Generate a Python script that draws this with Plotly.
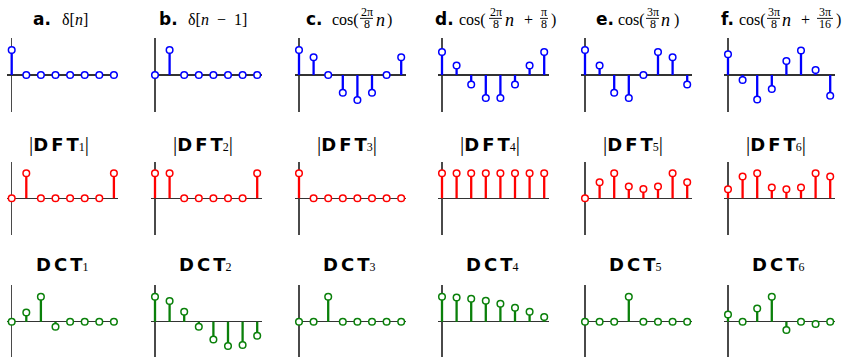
import plotly.graph_objects as go

# ---------------- data ----------------
idx = [0, 1, 2, 3, 4, 5, 6, 7]

sig_a = [1, 0, 0, 0, 0, 0, 0, 0]
sig_b = [0, 1, 0, 0, 0, 0, 0, 0]
sig_c = [1, 0.71, 0, -0.71, -1, -0.71, 0, 0.71]
sig_d = [0.92, 0.38, -0.38, -0.92, -0.92, -0.38, 0.38, 0.92]
sig_e = [1, 0.38, -0.71, -0.92, 0, 0.92, 0.71, -0.38]
sig_f = [0.83, -0.2, -0.98, -0.56, 0.56, 0.98, 0.2, -0.83]

dft_1 = [0, 1, 0, 0, 0, 0, 0, 1]
dft_2 = [1, 1, 0, 0, 0, 0, 0, 1]
dft_3 = [1, 0, 0, 0, 0, 0, 0, 0]
dft_4 = [1, 1, 1, 1, 1, 1, 1, 1]
dft_5 = [0, 0.64, 1, 0.47, 0.37, 0.47, 1, 0.64]
dft_6 = [0.36, 0.87, 1, 0.43, 0.36, 0.43, 1, 0.87]

dct_1 = [0, 0.37, 1, -0.2, 0, 0, 0, 0]
dct_2 = [1, 0.83, 0.4, -0.2, -0.71, -0.97, -0.93, -0.56]
dct_3 = [0, 0, 1, 0, 0, 0, 0, 0]
dct_4 = [1, 0.97, 0.92, 0.84, 0.72, 0.56, 0.4, 0.19]
dct_5 = [0, 0, 0, 1, 0, 0, 0, 0]
dct_6 = [0.29, 0, 0.53, 1, -0.33, 0, -0.09, 0]

panel_letters = ["a.", "b.", "c.", "d.", "e.", "f."]

SERIF = "Liberation Serif"
SANS = "DejaVu Sans"

# ---------------- layout geometry (pixels) ----------------
W, H = 852, 357
col_x0 = [11.7, 155, 299, 442, 585, 728]
row_axis_y = [75, 198.3, 321.7]
ppx, ppy = 14.6, 25.0
x_left, x_right = -4.5, 106.5
y_half = 36.8

rows = [
    dict(data=[sig_a, sig_b, sig_c, sig_d, sig_e, sig_f], color="#0000ff", label="n"),
    dict(data=[dft_1, dft_2, dft_3, dft_4, dft_5, dft_6], color="#ff0000", label="k"),
    dict(data=[dct_1, dct_2, dct_3, dct_4, dct_5, dct_6], color="#0a800a", label="k"),
]

fig = go.Figure()
layout = {}
annotations = []
shapes = []


def px2x(p):
    return p / W


def px2y(p):
    return 1 - p / H


def txt(text, xpx, ypx, size, family, xanchor="left", bold=False):
    annotations.append(dict(xref="paper", yref="paper", x=px2x(xpx), y=px2y(ypx),
                            text=("<b>%s</b>" % text) if bold else text,
                            showarrow=False, xanchor=xanchor, yanchor="middle",
                            borderpad=0, font=dict(family=family, size=size, color="black")))


# row-1 title pieces: baseline at y=25 px
BASE = 25.0
MS = 16          # main serif size
FS = 12          # fraction size
BS = 17          # bold letter size
C_MAIN = BASE - 0.3375 * MS
C_BOLD = BASE - 0.346 * BS


def frac(o, cx, num, den, width):
    x = o + cx
    txt(num, x, 16.3 - 0.3375 * FS, FS, SERIF, "center")
    txt(den, x, 28.0 - 0.3375 * FS, FS, SERIF, "center")
    shapes.append(dict(type="line", xref="paper", yref="paper",
                       x0=px2x(x - width / 2), x1=px2x(x + width / 2),
                       y0=px2y(18.4), y1=px2y(18.4), line=dict(color="black", width=0.9)))


N_IT = '<span style="font-size:18px"><i>n</i></span>'
title_specs = [
    [("b", panel_letters[0], 20), ("s", "δ[<i>n</i>]", 49)],
    [("b", panel_letters[1], 3), ("s", "δ[<i>n</i>\u2002−\u20021]", 32)],
    [("b", panel_letters[2], 6), ("s", "cos(", 32), ("f", ("2π", "8", 13), 67.5),
     ("s", N_IT, 76), ("s", ")", 87)],
    [("b", panel_letters[3], -8), ("s", "cos(", 16), ("f", ("2π", "8", 13), 53.5),
     ("s", N_IT, 62), ("c", "+", 86), ("f", ("π", "8", 8), 102), ("s", ")", 108)],
    [("b", panel_letters[4], 10), ("s", "cos(", 32), ("f", ("3π", "8", 13), 67.5),
     ("s", N_IT, 75), ("s", ")", 87.5)],
    [("b", panel_letters[5], -8), ("s", "cos(", 10), ("f", ("3π", "8", 13), 45.5),
     ("s", N_IT, 53), ("c", "+", 77), ("f", ("3π", "16", 16), 97), ("s", ")", 107)],
]
for c, spec in enumerate(title_specs):
    o = col_x0[c]
    for kind, t, rx in spec:
        if kind == "b":
            txt(t, o + rx, C_BOLD, BS, SANS, "left", bold=True)
        elif kind == "s":
            txt(t, o + rx, C_MAIN, MS, SERIF, "left")
        elif kind == "c":
            txt(t, o + rx, C_MAIN, MS, SERIF, "center")
        else:
            frac(o, rx, t[0], t[1], t[2])


def ser(t, size=None):
    s = f"font-family:{SERIF}" + (f";font-size:{size}px" if size else "")
    return f'<span style="{s}">{t}</span>'


SP = "\u2006"
for c in range(6):
    o = col_x0[c]
    t2 = ser("|", 21) + f"<b>D{SP}F{SP}T</b>" + ser(str(c + 1), 12) + ser("|", 21)
    txt(t2, o + 47.5, 143.5, 18, SANS, "center")
    t3 = f"<b>D{SP}C{SP}T</b>" + ser(str(c + 1), 12)
    txt(t3, o + 50, 264.5, 18, SANS, "center")

ai = 0
for r, row in enumerate(rows):
    for c in range(6):
        ai += 1
        xa = "x" if ai == 1 else f"x{ai}"
        ya = "y" if ai == 1 else f"y{ai}"
        vals = row["data"][c]
        sx, sy = [], []
        for k, v in zip(idx, vals):
            sx += [k, k, None]
            sy += [0, v, None]
        fig.add_trace(go.Scatter(x=sx, y=sy, mode="lines", xaxis=xa, yaxis=ya,
                                 line=dict(color=row["color"], width=2.3),
                                 hoverinfo="skip", showlegend=False))
        fig.add_trace(go.Scatter(x=idx, y=vals, mode="markers", xaxis=xa, yaxis=ya,
                                 cliponaxis=False,
                                 marker=dict(size=6.6, color="white",
                                             line=dict(color=row["color"], width=1.5)),
                                 showlegend=False))
        x0 = col_x0[c]
        dx = [(x0 + x_left) / W, (x0 + x_right) / W]
        ay = row_axis_y[r]
        top_px = ay - y_half
        bot_px = min(H, ay + y_half)
        dy = [1 - bot_px / H, 1 - top_px / H]
        xk = "xaxis" if ai == 1 else f"xaxis{ai}"
        yk = "yaxis" if ai == 1 else f"yaxis{ai}"
        layout[xk] = dict(domain=dx, range=[x_left / ppx, x_right / ppx], anchor=ya,
                          showgrid=False, showticklabels=False, ticks="",
                          zeroline=True, zerolinecolor="#4a4a4a", zerolinewidth=1.1,
                          showline=False, fixedrange=True)
        layout[yk] = dict(domain=dy, range=[-(bot_px - ay) / ppy, (ay - top_px) / ppy], anchor=xa,
                          showgrid=False, showticklabels=False, ticks="",
                          zeroline=True, zerolinecolor="#333333", zerolinewidth=1.3,
                          showline=False, fixedrange=True)
        annotations.append(dict(xref=xa, yref=ya, x=8.05, y=0, text="<i>" + row["label"] + "</i>",
                                showarrow=False, xanchor="center", yanchor="middle", borderpad=0,
                                font=dict(family=SERIF, size=19, color="#222")))

fig.update_layout(width=W, height=H, margin=dict(l=0, r=0, t=0, b=0),
                  paper_bgcolor="white", plot_bgcolor="rgba(0,0,0,0)",
                  hovermode=False,
                  annotations=annotations, shapes=shapes, **layout)
fig.write_html("out.html", config={"displayModeBar": False, "staticPlot": True},
               post_script="document.body.style.margin='0px';")
